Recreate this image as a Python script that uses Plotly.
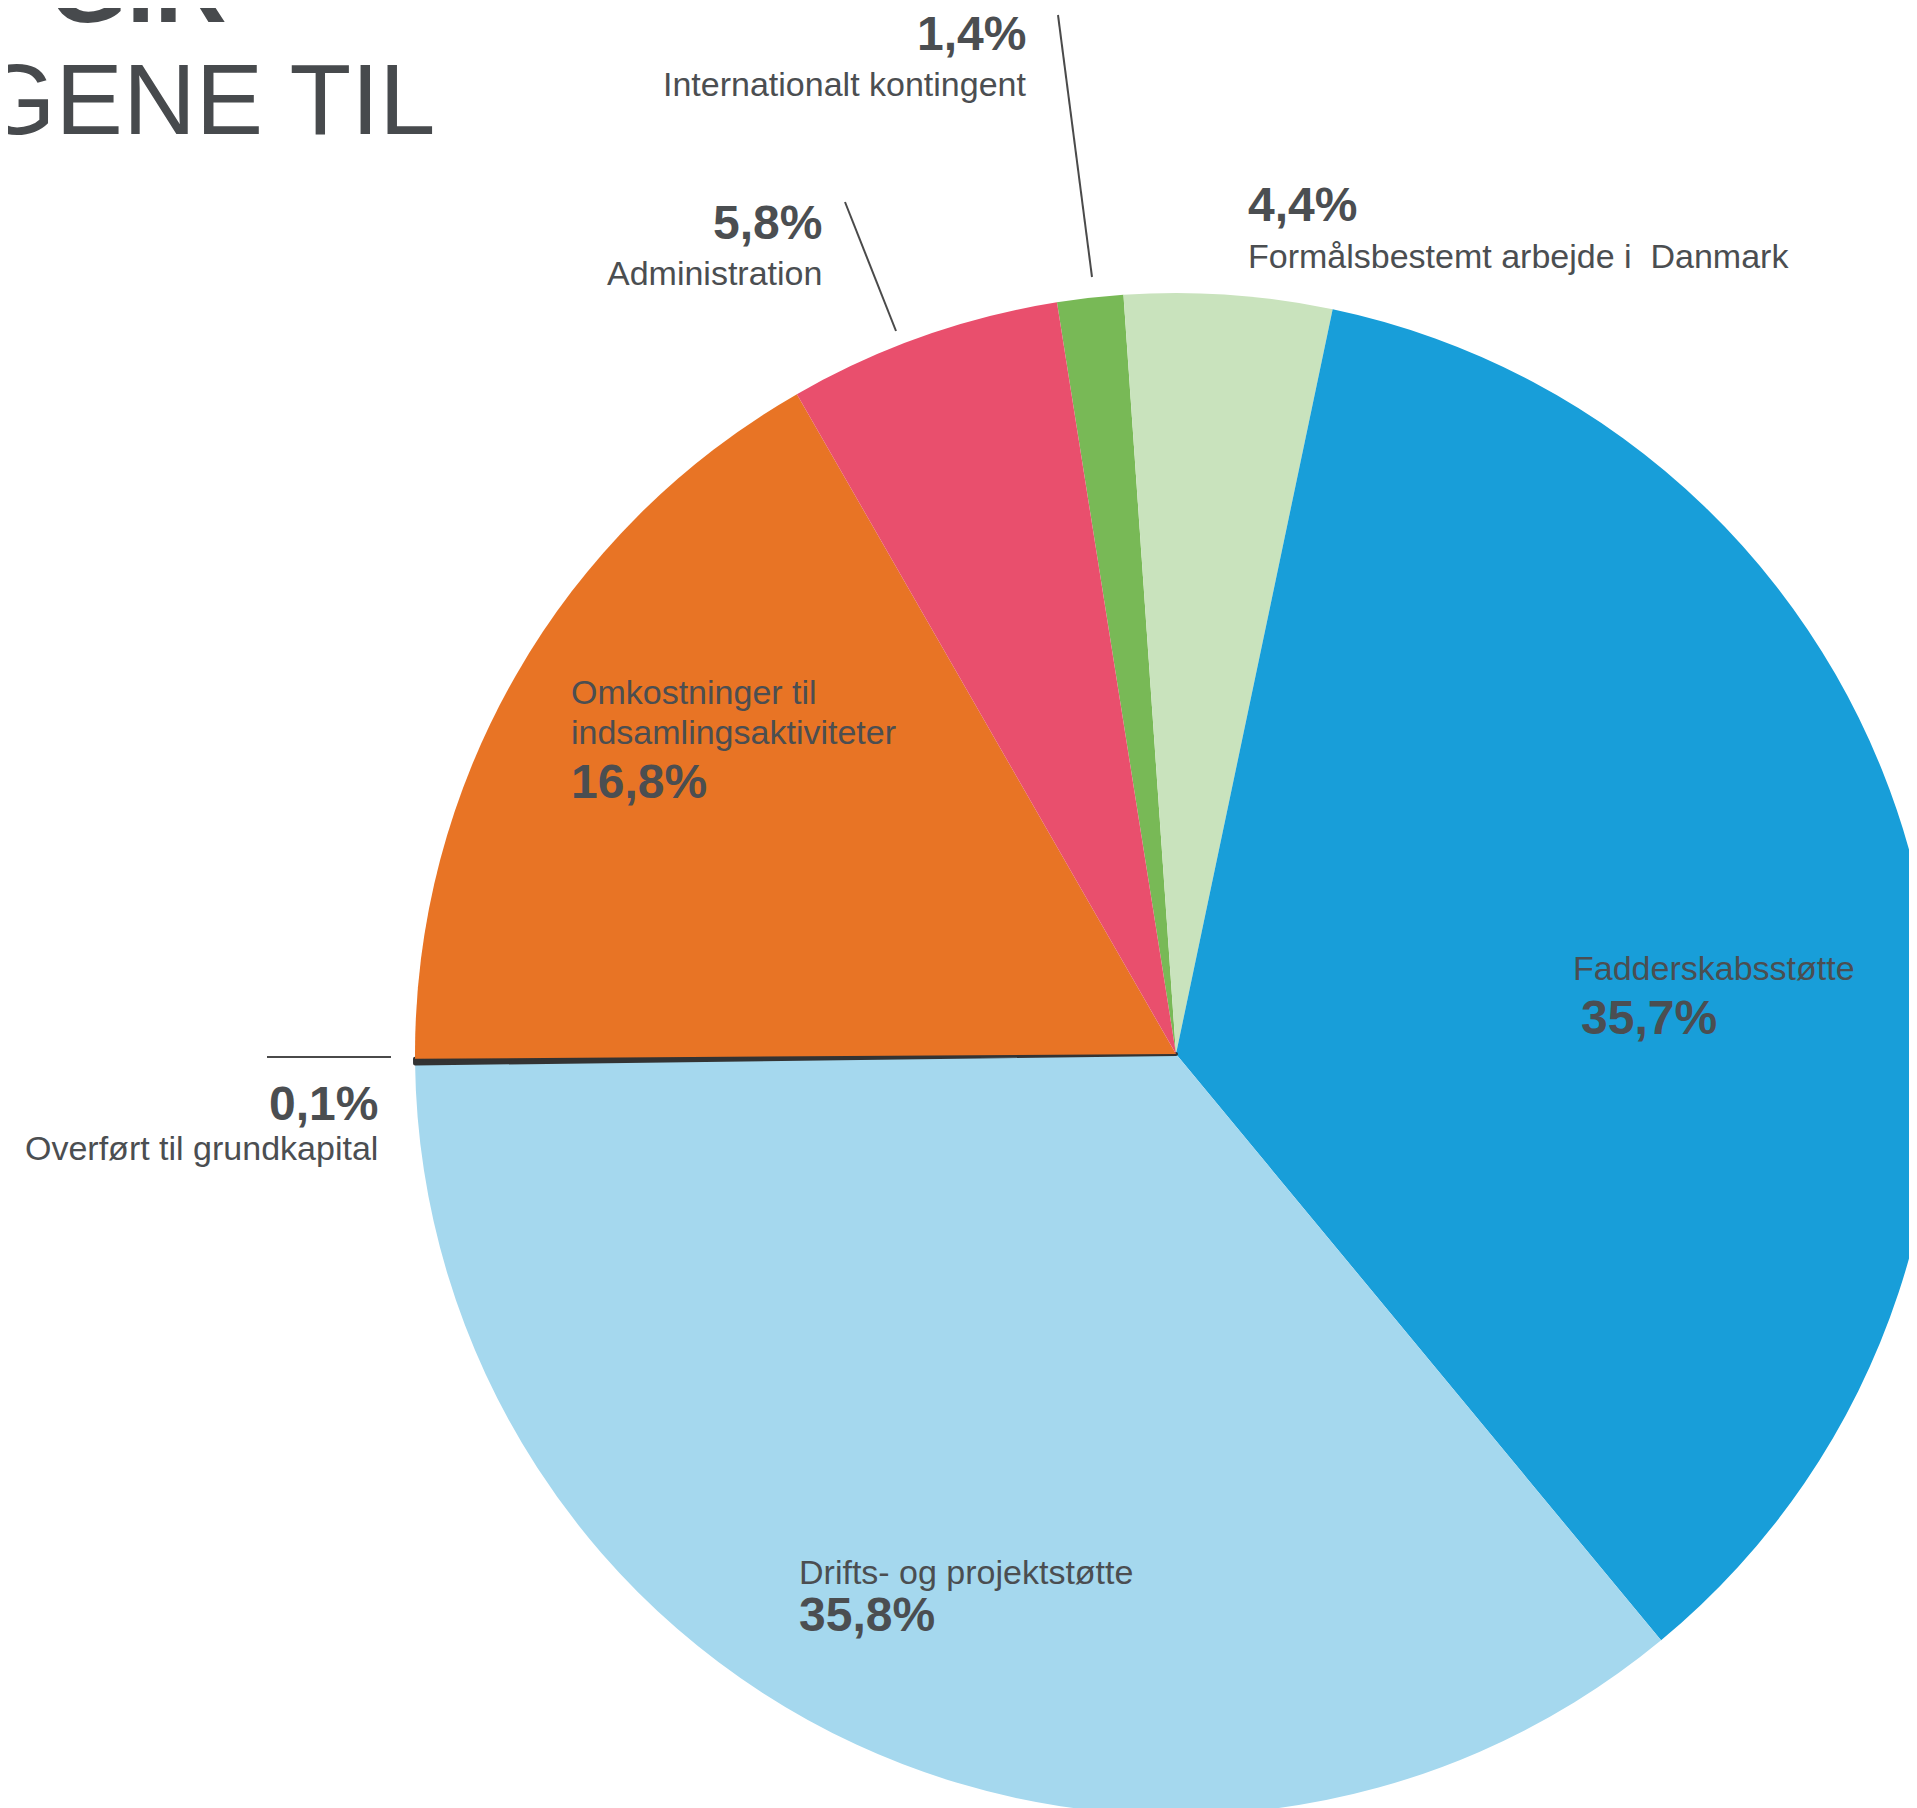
import plotly.graph_objects as go

# ---- data ----
labels = [
    "Internationalt kontingent",
    "Formålsbestemt arbejde i  Danmark",
    "Fadderskabsstøtte",
    "Drifts- og projektstøtte",
    "Overført til grundkapital",
    "Omkostninger til indsamlingsaktiviteter",
    "Administration",
]
values = [1.4, 4.4, 35.7, 35.8, 0.1, 16.8, 5.8]
colors = ["#78B956", "#C9E3BD", "#189ED9", "#A5D8EE", "#333333", "#E87425", "#E94F6D"]
title_lines = ["GIR", "GENE TIL"]

def pct(v):
    return f"{v:.1f}".replace(".", ",") + "%"

# figure a bit larger than the window: the pie runs off the right/bottom edge as in the original
W, H = 1940, 1830
OFF = 8  # page body margin
TXT = "#4b4e51"
FONT = "Liberation Sans, Arial, sans-serif"

def px(x):
    return (x - OFF) / W

def py(y):
    return 1 - (y - OFF) / H

# pie geometry (page pixels)
cx, cy, r = 1176, 1054, 761

fig = go.Figure(go.Pie(
    labels=labels,
    values=values,
    sort=False,
    direction="clockwise",
    rotation=-9,
    marker=dict(colors=colors,
                line=dict(color="#333333", width=[0, 0, 0, 0, 4, 0, 0])),
    textinfo="none",
    hoverinfo="skip",
    showlegend=False,
    domain=dict(x=[px(cx - r), px(cx + r)], y=[py(cy + r), py(cy - r)]),
))

annotations = []

def ann(text, x, base, size, bold=False, xanchor="left", color=TXT):
    top = base - 0.905 * size - 1
    annotations.append(dict(
        x=px(x), y=py(top), xref="paper", yref="paper",
        xanchor=xanchor, yanchor="top", text=text, showarrow=False,
        font=dict(family=FONT, size=size, color=color,
                  weight="bold" if bold else "normal"),
    ))

RS, BS = 34, 48
# Internationalt kontingent
ann(pct(values[0]), 1028, 49, BS, True, "right")
ann(labels[0], 1028, 95, RS, False, "right")
# Formålsbestemt
ann(pct(values[1]), 1246, 220, BS, True)
ann(labels[1], 1246, 267, RS)
# Fadderskabsstøtte
ann(labels[2], 1571, 979, RS)
ann(pct(values[2]), 1579, 1033, BS, True)
# Drifts
ann(labels[3], 797, 1583, RS)
ann(pct(values[3]), 797, 1630, BS, True)
# Overført
ann(pct(values[4]), 380, 1119, BS, True, "right")
ann(labels[4], 380, 1159, RS, False, "right")
# Omkostninger
ann("Omkostninger til", 569, 703, RS)
ann("indsamlingsaktiviteter", 569, 743, RS)
ann(pct(values[5]), 569, 797, BS, True)
# Administration
ann(pct(values[6]), 824, 238, BS, True, "right")
ann(labels[6], 824, 284, RS, False, "right")

# title fragments (cut by the page edge, as in the original)
ann(title_lines[0], 229, 21, 100, True, "right", "#474a4d")
ann(title_lines[1], 437, 133, 101, False, "right", "#474a4d")

shapes = []
for (x0, y0, x1, y1) in [(1058, 15, 1092, 277), (845, 202, 896, 331), (267, 1057, 391, 1057)]:
    shapes.append(dict(type="line", xref="paper", yref="paper",
                       x0=px(x0), y0=py(y0), x1=px(x1), y1=py(y1),
                       line=dict(color="#4a4a4a", width=2)))

fig.update_layout(
    width=W, height=H,
    margin=dict(l=0, r=0, t=0, b=0),
    paper_bgcolor="white", plot_bgcolor="white",
    annotations=annotations, shapes=shapes,
)

fig.write_html("out.html")
